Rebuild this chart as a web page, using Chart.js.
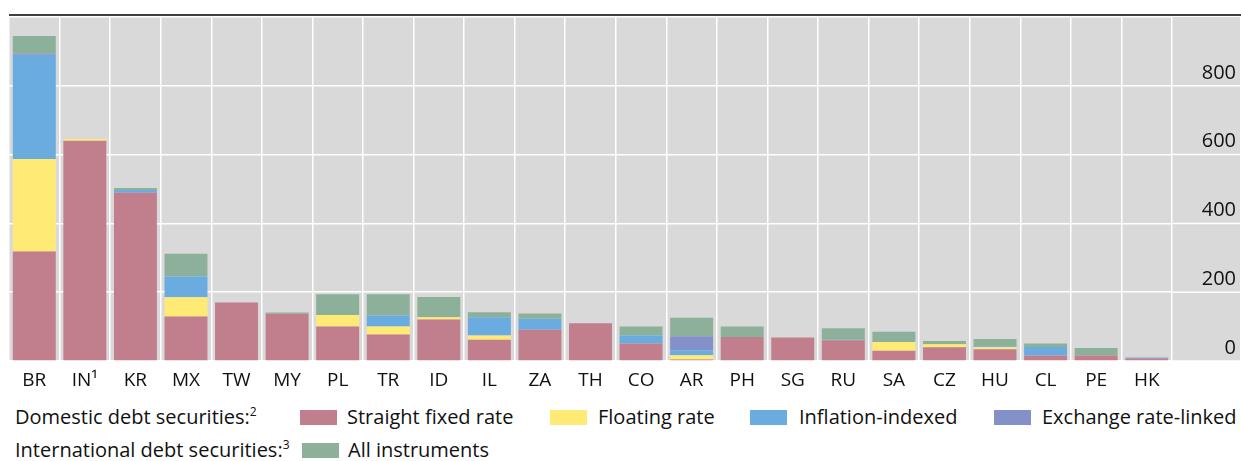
<!DOCTYPE html>
<html>
<head>
<meta charset="utf-8">
<script src="https://cdn.jsdelivr.net/npm/chart.js@4"></script>
<style>
  body { margin: 0; background: #fff; font-family: "Open Sans", sans-serif; }
  #wrap { position: relative; width: 1241px; height: 461px; }
  #box { position: absolute; left: 0; top: 0; width: 1241px; height: 396px; }
  .lg { position: absolute; font-size: 20px; color: #111; white-space: nowrap; line-height: 22px; }
  .lg sup { font-size: 12px; vertical-align: top; position: relative; top: -5px; }
  .sw { position: absolute; width: 37px; height: 15px; }
</style>
</head>
<body>
<div id="wrap">
  <div id="box"><canvas id="chart"></canvas></div>
  <div class="lg" style="left:15px;top:406px">Domestic debt securities:<sup>2</sup></div>
  <div class="sw" style="left:300px;top:410px;background:#c17f8e"></div>
  <div class="lg" style="left:347px;top:406px">Straight fixed rate</div>
  <div class="sw" style="left:550px;top:410px;background:#ffea75"></div>
  <div class="lg" style="left:598px;top:406px">Floating rate</div>
  <div class="sw" style="left:750px;top:410px;background:#6aace0"></div>
  <div class="lg" style="left:799px;top:406px">Inflation-indexed</div>
  <div class="sw" style="left:994px;top:410px;background:#8490c8"></div>
  <div class="lg" style="left:1042px;top:406px">Exchange rate-linked</div>
  <div class="lg" style="left:15px;top:439px">International debt securities:<sup>3</sup></div>
  <div class="sw" style="left:302px;top:443px;background:#8db09a"></div>
  <div class="lg" style="left:348px;top:439px">All instruments</div>
</div>
<script>
// outstanding debt securities by country
const countries = ['BR', 'IN¹', 'KR', 'MX', 'TW', 'MY', 'PL', 'TR', 'ID', 'IL', 'ZA', 'TH',
  'CO', 'AR', 'PH', 'SG', 'RU', 'SA', 'CZ', 'HU', 'CL', 'PE', 'HK'];
const straightFixed = [318, 640, 489, 129, 170, 137, 100, 77, 121, 62, 91, 110, 51, 4, 70, 68, 60, 30, 40, 34, 16, 16, 7];
const floatingRate = [269, 5, 0, 56, 0, 0, 34, 23, 6, 12, 0, 0, 0, 13, 0, 0, 0, 25, 9, 6, 0, 0, 0];
const inflationIndexed = [303, 0, 8, 61, 0, 0, 0, 32, 0, 53, 32, 0, 23, 14, 0, 0, 2, 0, 0, 3, 25, 0, 3];
const exchangeLinked = [4, 0, 0, 0, 0, 0, 0, 0, 0, 0, 0, 0, 0, 41, 0, 0, 0, 0, 0, 0, 0, 0, 0];
const allInstruments = [51, 0, 6, 66, 0, 4, 60, 62, 59, 15, 15, 0, 26, 54, 30, 0, 33, 30, 9, 21, 10, 22, 0];
const yTicks = [0, 200, 400, 600, 800];

const panelBg = {
  id: 'panelBg',
  beforeDraw(chart) {
    const { ctx, chartArea: { top, bottom, left } } = chart;
    ctx.save();
    ctx.fillStyle = '#d9d9d9';
    ctx.fillRect(left, top, chart.width - 1 - left, bottom - top);
    ctx.restore();
  },
  beforeDatasetsDraw(chart) {
    // carry the horizontal grid through the label strip on the right
    const { ctx, chartArea: { right }, scales: { y } } = chart;
    ctx.save();
    ctx.strokeStyle = '#ffffff';
    ctx.lineWidth = 1.5;
    yTicks.forEach((v) => {
      const py = y.getPixelForValue(v);
      ctx.beginPath();
      ctx.moveTo(right, py);
      ctx.lineTo(chart.width - 1, py);
      ctx.stroke();
    });
    ctx.restore();
  },
  afterDraw(chart) {
    const { ctx, chartArea: { left, top } } = chart;
    ctx.save();
    ctx.strokeStyle = '#000';
    ctx.lineWidth = 1.5;
    ctx.beginPath();
    ctx.moveTo(left, top - 2);
    ctx.lineTo(chart.width, top - 2);
    ctx.stroke();
    ctx.restore();
  },
};

const mk = (label, data, color) => ({
  label, data, backgroundColor: color,
  barPercentage: 0.85, categoryPercentage: 1, borderWidth: 0,
});

new Chart(document.getElementById('chart'), {
  type: 'bar',
  data: {
    labels: countries,
    datasets: [
      mk('Straight fixed rate', straightFixed, '#c17f8e'),
      mk('Floating rate', floatingRate, '#ffea75'),
      mk('Inflation-indexed', inflationIndexed, '#6aace0'),
      mk('Exchange rate-linked', exchangeLinked, '#8490c8'),
      mk('All instruments', allInstruments, '#8db09a'),
    ],
  },
  options: {
    responsive: true,
    maintainAspectRatio: false,
    animation: false,
    layout: { padding: { left: 9, right: 5, top: 17, bottom: 0 } },
    plugins: { legend: { display: false }, tooltip: { enabled: false } },
    scales: {
      x: {
        stacked: true,
        grid: { color: '#ffffff', lineWidth: 1.5, drawTicks: false, offset: true },
        border: { display: false },
        ticks: { color: '#111', padding: 8, font: { family: 'Open Sans', size: 19 } },
        afterFit: (s) => { s.height = 35; s.paddingLeft = 0; s.paddingRight = 0; },
      },
      y: {
        stacked: true,
        position: 'right',
        min: 0,
        max: 1000,
        grid: { color: '#ffffff', lineWidth: 1.5, drawTicks: false },
        border: { display: false },
        ticks: {
          stepSize: 200,
          crossAlign: 'far',
          padding: 16,
          labelOffset: -13,
          color: '#111',
          font: { family: 'Open Sans', size: 20 },
          callback: (v) => (v === 1000 ? '' : v),
        },
        afterFit: (s) => { s.width = 64; s.paddingTop = 0; s.paddingBottom = 0; },
      },
    },
  },
  plugins: [panelBg],
});
</script>
</body>
</html>
